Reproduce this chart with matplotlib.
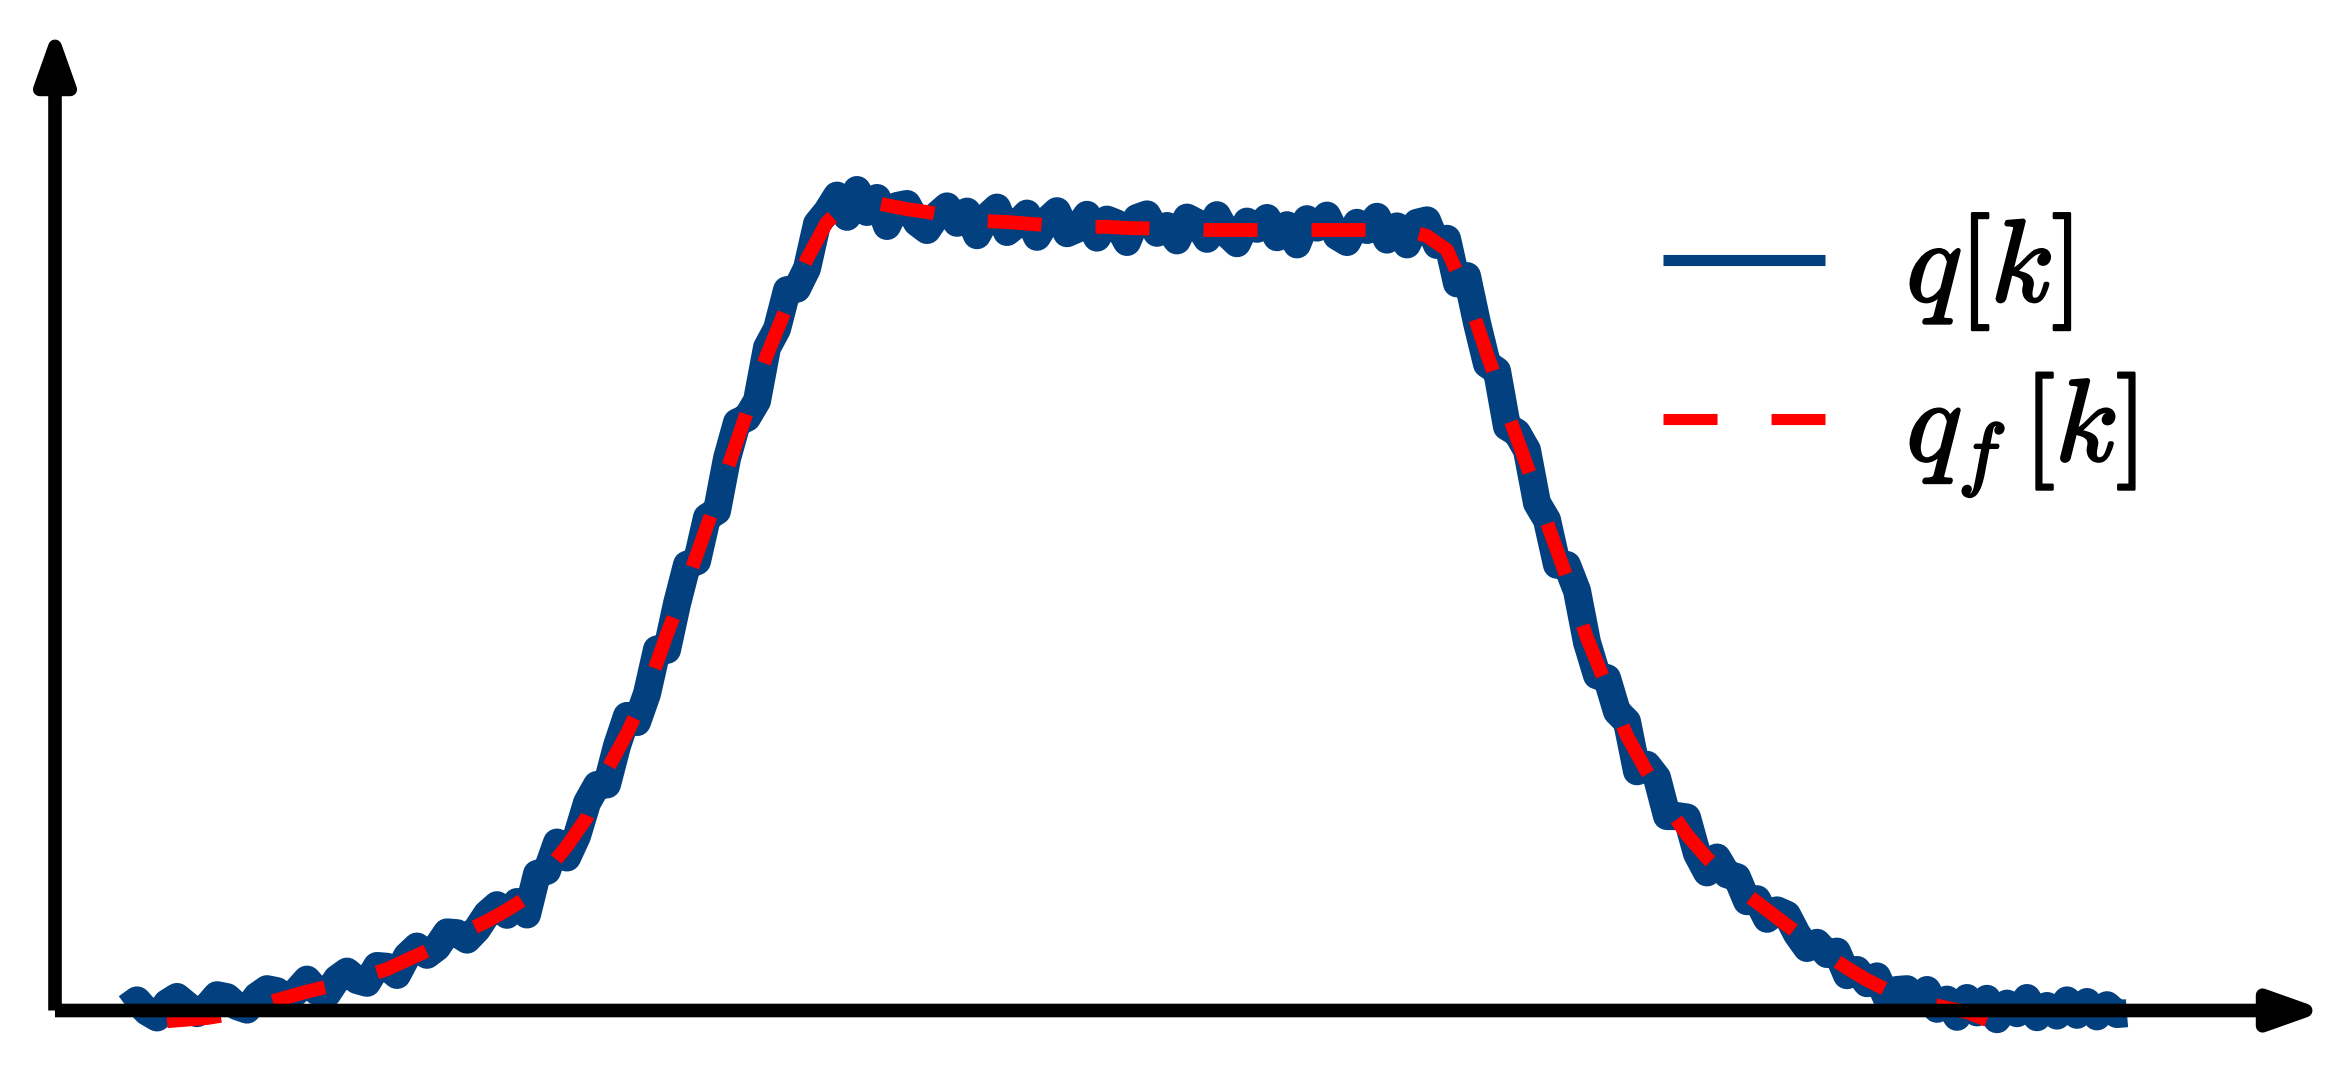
import numpy as np
import matplotlib
matplotlib.use("Agg")
import matplotlib.pyplot as plt
from matplotlib.patches import FancyArrowPatch, ArrowStyle
import matplotlib.patheffects as pe

plt.rcParams['mathtext.fontset'] = 'cm'
plt.rcParams['lines.scale_dashes'] = False

# ---- data ----
k_q = np.arange(0, 201)
q = [0.3, 1.2, -0.2, -0.93, 0.85, 1.63, 0.6, -0.4, 0.4, 1.85,
     1.6, 0.48, 0.05, 1.73, 2.6, 2.35, 1.3, 2.4, 3.8, 2.35,
     2.0, 3.9, 4.8, 3.75, 3.4, 5.5, 5.4, 4.38, 6.75, 7.93,
     6.9, 7.85, 9.7, 9.6, 8.8, 10.1, 12.0, 13.1, 11.9, 13.5,
     11.94, 17.01, 17.4, 20.93, 19.06, 21.76, 25.9, 28.13, 28.2, 33.02,
     36.76, 35.99, 39.54, 45.07, 45.02, 50.79, 55.66, 56.1, 61.58, 62.38,
     68.94, 73.44, 74.03, 76.14, 82.8, 85.13, 89.98, 90.17, 92.7, 98.26,
     99.8, 101.8, 99.15, 102.5, 99.75, 101.5, 98.0, 100.5, 100.75, 98.45,
     97.5, 99.35, 100.45, 98.4, 99.8, 96.85, 99.15, 100.3, 97.25, 98.25,
     99.55, 96.65, 98.7, 99.85, 97.1, 97.65, 99.4, 96.55, 98.8, 98.3,
     96.0, 99.0, 99.45, 97.15, 98.0, 96.2, 99.05, 98.4, 96.4, 99.35,
     97.05, 95.85, 98.55, 97.65, 99.0, 96.6, 98.1, 95.7, 98.85, 97.8,
     99.3, 96.75, 96.0, 98.4, 97.5, 99.15, 96.3, 97.95, 95.7, 98.4,
     98.7, 95.63, 96.4, 90.83, 91.74, 85.88, 80.74, 79.89, 72.92, 72.17,
     69.98, 63.37, 61.26, 55.65, 55.62, 52.41, 45.96, 41.83, 41.48, 37.3,
     36.05, 29.84, 30.65, 29.04, 24.24, 24.24, 24.06, 19.55, 17.2, 19.06,
     16.96, 16.6, 13.6, 13.85, 11.4, 12.45, 11.9, 9.5, 7.75, 8.4,
     7.0, 7.3, 4.35, 5.0, 3.35, 4.2, 1.4, 2.5, 2.6, 0.9,
     2.5, 0.15, 1.3, -0.85, 1.5, -0.3, 1.4, -1.15, 0.8, -0.4,
     1.5, -0.9, 0.5, -0.7, 1.2, -0.6, 1.0, -0.8, 0.6, -0.5,
     -0.4]

k_qf = np.arange(4, 188, 2)
q_f = [-1.4, -1.2, -1.0, -0.6, 0.1, 0.9, 1.6, 2.3, 2.9, 3.6,
       4.3, 5.1, 6.25, 7.4, 8.5, 9.9, 11.1, 12.5, 14.1,
       17.4, 20.5, 24.1, 30.0, 34.6, 39.9, 47.0, 53.5, 60.5, 67.5,
       74.75, 81.9, 88.0, 93.9,
       98.5, 100.75, 101.1, 100.6, 100.1, 99.75, 99.25, 98.9, 98.6, 98.5,
       98.3, 98.1, 98.0, 97.9, 97.9, 97.75, 97.7, 97.6, 97.6,
       97.5, 97.5, 97.5, 97.5, 97.5, 97.5, 97.5, 97.5, 97.5, 97.5, 97.5,
       96.75, 95.0, 89.4, 82.0, 74.9, 68.0, 60.9, 54.0, 46.5, 40.4,
       34.25, 29.75, 25.5, 21.9, 19.0, 16.6, 14.4, 12.5, 10.6, 8.75,
       6.9, 5.25, 3.75, 2.5, 1.6, 0.9, 0.25, -0.25, -1.25]

labels = [r'$q[k]$', r'$q_f\,[k]$']
colors = ['#03407F', '#FF0000']

# ---- figure ----
W, H, DPI = 2335, 1070, 100
fig = plt.figure(figsize=(W / DPI, H / DPI), dpi=DPI)
ax = fig.add_axes([0, 0, 1, 1])
ax.axis('off')
ax.set_xlim(-12.7, 220.8)
ax.set_ylim(-7.5, 126.25)

l1, = ax.plot(k_q, q, color=colors[0], lw=20.2, solid_joinstyle='round',
              solid_capstyle='butt', label=labels[0], zorder=2)
l2, = ax.plot(k_qf, q_f, color=colors[1], lw=10, linestyle=(0, (38.9, 38.9)),
              dash_capstyle='butt', label=labels[1], zorder=3)

leg = ax.legend(handles=[l1, l2], loc='upper left', bbox_to_anchor=(0.712, 0.803),
                frameon=False, fontsize=84, handlelength=1.39, handletextpad=0.7,
                labelspacing=0.33, borderpad=0, borderaxespad=0)
for ln in leg.get_lines():
    ln.set_linewidth(8)
for t in leg.get_texts():
    t.set_path_effects([pe.withStroke(linewidth=1.8, foreground='black')])

# axis arrows
x0 = 55 / W
y0 = 1 - 1010.5 / H
lw_ax = 9.8
style = ArrowStyle('-|>', head_length=31, head_width=11)
for tip in [(2326 / W, y0), (x0, 1 - 26 / H)]:
    arr = FancyArrowPatch((x0, y0), tip, transform=fig.transFigure,
                          arrowstyle=style, mutation_scale=1, lw=lw_ax,
                          color='black', shrinkA=0, shrinkB=0,
                          joinstyle='round', capstyle='butt', zorder=5)
    fig.patches.append(arr)

fig.savefig('out.png', dpi=DPI)
